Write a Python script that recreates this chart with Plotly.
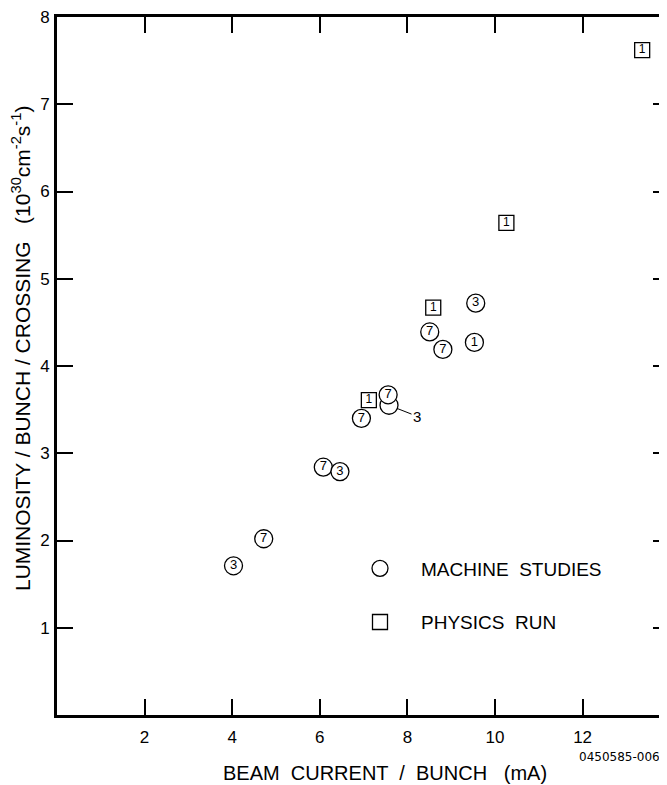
import plotly.graph_objects as go

# Machine studies (circles) with number of bunches labels
machine_x = [4.03, 4.72, 6.08, 6.46, 6.95, 7.58, 7.56, 8.51, 8.81, 9.53, 9.56]
machine_y = [1.71, 2.02, 2.84, 2.79, 3.40, 3.55, 3.67, 4.39, 4.19, 4.27, 4.72]
machine_lbl = ["3", "7", "7", "3", "7", "", "7", "7", "7", "1", "3"]
hidden_x, hidden_y, hidden_lbl = 7.58, 3.55, "3"

# Physics run (squares)
physics_x = [7.12, 8.59, 10.26, 13.36]
physics_y = [3.61, 4.67, 5.64, 7.62]
physics_lbl = ["1", "1", "1", "1"]

x_ticks = [2, 4, 6, 8, 10, 12]
y_ticks = [1, 2, 3, 4, 5, 6, 7, 8]

FONT = "Liberation Sans"
OFF = 8  # page body margin
W, H = 667 - OFF, 785 - OFF
ML, MR, MT, MB = 57 - OFF, 0, 15 - OFF, 785 - 715
PW, PH = W - ML - MR, H - MT - MB
px_per_unit = 43.8
x_max = PW / px_per_unit


def px(sx):
    return (sx - OFF - ML) / PW


def py(sy):
    return (MT + PH - (sy - OFF)) / PH


fig = go.Figure()

fig.add_trace(go.Scatter(
    x=machine_x, y=machine_y, mode="markers", name="MACHINE  STUDIES",
    marker=dict(symbol="circle", size=18, color="white",
                line=dict(color="black", width=1.3)),
    legendgroup="a", cliponaxis=False))
fig.add_trace(go.Scatter(
    x=physics_x, y=physics_y, mode="markers", name="PHYSICS  RUN",
    marker=dict(symbol="square", size=15, color="white",
                line=dict(color="black", width=1.3)),
    legendgroup="b", cliponaxis=False))
fig.add_trace(go.Scatter(
    x=machine_x, y=machine_y, mode="text", text=machine_lbl,
    textposition="middle center", showlegend=False,
    textfont=dict(family=FONT, size=13, color="black"), cliponaxis=False))
fig.add_trace(go.Scatter(
    x=physics_x, y=physics_y, mode="text", text=physics_lbl,
    textposition="middle center", showlegend=False,
    textfont=dict(family=FONT, size=12, color="black"), cliponaxis=False))

fig.add_annotation(x=hidden_x, y=hidden_y, text=hidden_lbl, showarrow=True,
                   ax=28, ay=11, arrowhead=0, arrowwidth=1, arrowcolor="black",
                   standoff=9, font=dict(family=FONT, size=15, color="black"))

# axis title x
fig.add_annotation(xref="paper", yref="paper", x=px(385), y=py(773),
                   text="BEAM  CURRENT  /  BUNCH   (mA)", showarrow=False,
                   font=dict(family=FONT, size=20, color="black"),
                   xanchor="center", yanchor="middle")
# figure id
fig.add_annotation(xref="paper", yref="paper", x=px(619), y=py(757),
                   text="0450585-006", showarrow=False,
                   font=dict(family="DejaVu Sans", size=12, color="black"),
                   xanchor="center", yanchor="middle")
# y title
fig.add_annotation(xref="paper", yref="paper", x=px(21), y=py(348),
                   text="LUMINOSITY / BUNCH / CROSSING   (10<sup>30</sup>cm<sup>-2</sup>s<sup>-1</sup>)",
                   showarrow=False, textangle=-90,
                   font=dict(family=FONT, size=21, color="black"),
                   xanchor="center", yanchor="middle")

axis_common = dict(showgrid=False, zeroline=False, ticks="inside", ticklen=16,
                   tickwidth=1.5, tickcolor="black", linecolor="black", linewidth=3,
                   ticklabeloverflow="allow",
                   tickfont=dict(family=FONT, size=17, color="black"))

fig.update_layout(
    width=W, height=H,
    margin=dict(l=ML, r=MR, t=MT, b=MB, pad=0),
    paper_bgcolor="white", plot_bgcolor="white",
    xaxis=dict(range=[0, x_max], tickvals=x_ticks, ticktext=[str(v) for v in x_ticks],
               showline=True, mirror="ticks", ticklabelstandoff=5, **axis_common),
    yaxis=dict(range=[0, 8], tickvals=y_ticks, ticktext=[str(v) for v in y_ticks],
               showline=True, mirror=False, ticklabelstandoff=1, **axis_common),
    yaxis2=dict(range=[0, 8], overlaying="y", side="right", tickvals=y_ticks,
                showticklabels=False, showline=False, showgrid=False, zeroline=False,
                ticks="inside", ticklen=14, tickwidth=1.5, tickcolor="black"),
    showlegend=True,
    legend=dict(x=px(339), y=py(549), xanchor="left", yanchor="top",
                bgcolor="rgba(0,0,0,0)", itemwidth=72,
                traceorder="grouped", tracegroupgap=26,
                font=dict(family=FONT, size=19, color="black")),
)
# invisible trace to activate yaxis2
fig.add_trace(go.Scatter(x=[None], y=[None], yaxis="y2", showlegend=False))

fig.write_html("out.html")
